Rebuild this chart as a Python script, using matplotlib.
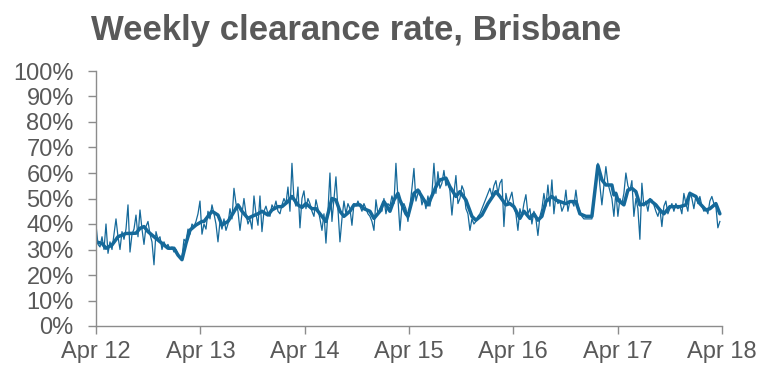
import matplotlib
matplotlib.use("Agg")
import matplotlib.pyplot as plt
import numpy as np

# ---- data ----
weekly = [
    # Apr 2012 - Apr 2013
    39.6, 32, 31, 35, 30, 40, 28.5, 33, 30, 36, 42, 35, 30, 37, 34, 38, 47.5, 29, 36, 38,
    43.5, 35, 45.5, 38, 32, 39, 41, 36, 33, 24, 37, 34, 35, 30, 33, 31, 32, 30, 31, 29,
    30, 28, 26.5, 27, 34, 33, 38, 36, 40, 39, 41, 44,
    # Apr 2013 - Apr 2014
    49, 36, 40, 38, 45, 42, 47.5, 44, 40, 33, 41, 38, 42, 37.5, 40, 46, 42, 54, 48, 45,
    37.5, 44, 50, 44, 40, 42, 38, 51, 44, 39.5, 51, 37, 45, 47, 44, 43, 47.5, 46, 49, 45,
    44, 47.5, 50, 48, 54.5, 45, 63.8, 49.5, 47, 54.5, 38.5, 50,
    # Apr 2014 - Apr 2015
    53, 46, 50, 48, 45, 43, 49.5, 46, 42, 37.5, 44, 32.5, 45, 60, 41, 50, 58.5, 46, 33, 42,
    49, 44, 48, 46, 39.5, 48, 47, 49, 47, 45, 48, 46, 44, 43, 41, 37.5, 49.5, 44, 46, 45,
    50, 44, 48, 47, 51, 48, 63.8, 50, 37.5, 47, 48, 46,
    # Apr 2015 - Apr 2016
    41, 47, 54, 61.8, 49, 52, 53, 47.5, 50, 46, 51, 47, 52, 63.8, 52, 60.5, 54, 56, 61, 55,
    57, 53, 43.5, 52, 59, 48, 50, 55, 53, 46, 44, 37.5, 42, 40, 41, 43, 44, 46, 48, 50,
    52, 54, 51, 55, 57, 52, 56, 57.5, 39, 52, 48, 50,
    # Apr 2016 - Apr 2017
    52.5, 47, 44, 37.5, 46, 43, 48, 51.5, 44, 46, 40, 45, 42, 35.5, 43, 46, 52, 47, 55.3, 47,
    57.3, 44, 51, 48, 49, 45, 47, 53.3, 45, 49, 49, 47, 53.3, 47, 45, 43, 42, 42, 42, 42,
    42, 49, 56, 63.8, 55, 47.5, 55, 62.5, 56, 53, 50, 43,
    # Apr 2017 - Apr 2018
    52.5, 43, 50, 48, 52, 60, 55, 53, 57, 43, 50, 46, 34, 56, 47, 49, 45, 50, 49.5, 47.5,
    45, 43, 46, 39, 47, 49, 44, 46, 48, 45, 48, 46, 47, 44, 52, 48, 45, 52.5, 50, 46,
    51, 48, 50.8, 47, 45, 46, 44, 49, 50.8, 48, 47, 38.5, 41,
]

smooth_week = [
    0, 3, 5, 8, 11, 15, 17, 20, 22, 24, 26, 29, 31, 34, 36, 39, 41, 43, 45, 47, 50, 53,
    54, 58, 61, 63, 66, 68, 71, 73, 76, 78, 81, 83, 86, 88, 91, 93, 96, 98, 101, 103,
    105, 108, 110, 112, 115, 118, 120, 122, 124, 127, 129, 132, 134, 137, 139, 142, 144,
    147, 149, 151, 152, 155,
    156, 159, 161, 164, 166, 170, 172, 175, 177, 180, 182, 185, 188, 190, 193, 196, 200,
    202, 205, 207,
    209, 212, 214, 217, 219, 221, 223, 225, 228, 230, 232, 235, 237, 240, 242, 245, 248,
    251, 253, 255, 258, 259,
    260, 261, 264, 266, 268, 270, 272, 275, 277, 280, 282, 284, 287, 290, 292, 295, 297,
    300, 302, 305, 307, 310, 312,
]
smooth_val = [
    33, 32.4, 30.5, 31.8, 35, 36.3, 36.3, 36.4, 38.3, 39, 37, 35, 33.7, 31.8, 30.5, 30.5,
    27.8, 26, 32.4, 37.6, 39.6, 41,
    41, 45, 43.5, 39.6, 41, 43.5, 47.5, 45, 42.2, 43, 44, 45, 43.5, 45.5, 46.8, 46.8, 48.8,
    50.8, 47.5, 46.5,
    48, 46, 46, 44, 41, 50, 49.4, 45, 43, 45, 47.5, 47.5, 46, 45, 42.2, 45, 48.8, 45, 49.4,
    52, 49.4, 44,
    43, 52, 53.3, 49.4, 47.5, 54.6, 57.3, 58, 54.6, 50.8, 52.7, 49.4, 43, 41.5, 43.5, 48,
    52.7, 50.8, 47.5, 48,
    46.8, 42.2, 45, 42.2, 44, 41.5, 43, 48.8, 50.8, 49.4, 48.8, 48, 48.8, 48.8, 44, 43, 43,
    63, 57.3, 55.3, 55.3, 51.4,
    52, 49.4, 47.5, 53.3, 54, 52.7, 47.5, 48, 49.4, 47.5, 45.5, 44, 46.8, 46.8, 46.8, 47.5,
    52, 50.8, 48, 45.5, 46, 48, 44,
]

tick_labels = ["Apr 12", "Apr 13", "Apr 14", "Apr 15", "Apr 16", "Apr 17", "Apr 18"]
y_ticks = list(range(0, 101, 10))
title = "Weekly clearance rate, Brisbane"

# ---- plot ----
W, H = 773, 384
fig = plt.figure(figsize=(W / 100, H / 100), dpi=100)
ax = fig.add_axes([96 / W, 1 - 326 / H, (722 - 96) / W, (326 - 71) / H])

color = "#15699a"
gray_txt = "#595959"
gray_ax = "#8c8c8c"
font = "Liberation Sans"

weeks_per_year = 52.1775
x_weekly = np.arange(len(weekly))
ax.plot(x_weekly, weekly, color=color, lw=0.9, solid_joinstyle="round")
ax.plot(smooth_week, smooth_val, color=color, lw=2.5, solid_joinstyle="round",
        solid_capstyle="round")

ax.set_xlim(0, 6 * weeks_per_year)
ax.set_ylim(0, 100)
ax.set_xticks([i * weeks_per_year for i in range(len(tick_labels))])
ax.set_xticklabels(tick_labels)
ax.set_yticks(y_ticks)
ax.set_yticklabels([f"{v}%" for v in y_ticks])

for s in ["top", "right"]:
    ax.spines[s].set_visible(False)
for s in ["left", "bottom"]:
    ax.spines[s].set_color(gray_ax)
    ax.spines[s].set_linewidth(1.0)
ax.tick_params(axis="both", direction="out", width=1.0, color=gray_ax,
               labelcolor=gray_txt, labelsize=17)
ax.tick_params(axis="x", length=6, pad=5)
ax.tick_params(axis="y", length=6, pad=10)
for lab in ax.get_xticklabels() + ax.get_yticklabels():
    lab.set_fontfamily(font)

fig.text(91 / W, 1 - 40 / H, title, fontsize=25, fontweight="bold", color=gray_txt,
         family=font, va="baseline", ha="left")

fig.savefig("out.png", dpi=100)
